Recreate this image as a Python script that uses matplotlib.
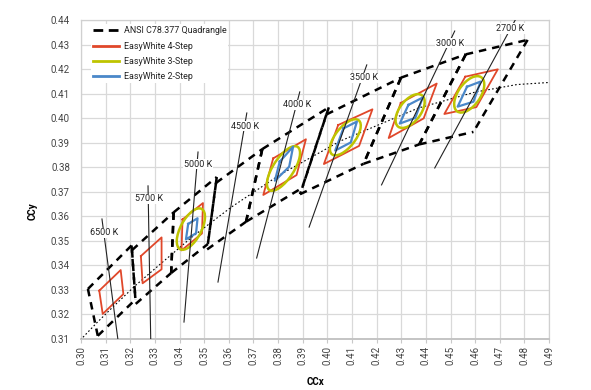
import matplotlib
matplotlib.use("Agg")
import matplotlib.pyplot as plt
from matplotlib.lines import Line2D
from matplotlib.patches import Ellipse

plt.rcParams["font.family"] = ["Roboto", "DejaVu Sans"]

CCT_LABELS = ["6500 K", "5700 K", "5000 K", "4500 K", "4000 K", "3500 K", "3000 K", "2700 K"]

# ANSI C78.377 quadrangles: corners top-right, top-left, bottom-left, bottom-right
ANSI_X = [
    [0.3205, 0.3028, 0.3068, 0.3221],
    [0.3376, 0.3207, 0.3222, 0.3366],
    [0.3551, 0.3376, 0.3366, 0.3515],
    [0.3736, 0.3548, 0.3512, 0.3670],
    [0.4006, 0.3736, 0.3670, 0.3898],
    [0.4299, 0.3996, 0.3889, 0.4147],
    [0.4562, 0.4299, 0.4147, 0.4373],
    [0.4813, 0.4562, 0.4373, 0.4593],
]
ANSI_Y = [
    [0.3481, 0.3304, 0.3113, 0.3261],
    [0.3616, 0.3462, 0.3243, 0.3369],
    [0.3760, 0.3616, 0.3369, 0.3487],
    [0.3874, 0.3736, 0.3465, 0.3578],
    [0.4044, 0.3874, 0.3578, 0.3716],
    [0.4165, 0.4015, 0.3690, 0.3814],
    [0.4260, 0.4165, 0.3814, 0.3893],
    [0.4319, 0.4260, 0.3893, 0.3944],
]

# EasyWhite 4-step (red quads), CCTs 6500, 5700, 5000, 4000, 3500, 3000, 2700
STEP4_X = [
    [0.3074, 0.3161, 0.3172, 0.3088],
    [0.3243, 0.3327, 0.3327, 0.3250],
    [0.3412, 0.3495, 0.3491, 0.3408],
    [0.3780, 0.3913, 0.3875, 0.3740],
    [0.4044, 0.4183, 0.4129, 0.3986],
    [0.4298, 0.4444, 0.4391, 0.4249],
    [0.4560, 0.4692, 0.4605, 0.4475],
]
STEP4_Y = [
    [0.3297, 0.3381, 0.3283, 0.3202],
    [0.3438, 0.3514, 0.3384, 0.3327],
    [0.3587, 0.3654, 0.3530, 0.3461],
    [0.3836, 0.3914, 0.3768, 0.3687],
    [0.3972, 0.4036, 0.3887, 0.3813],
    [0.4062, 0.4141, 0.3999, 0.3919],
    [0.4169, 0.4199, 0.4045, 0.4017],
]

# EasyWhite 3-step ellipses, CCTs 5000, 4000, 3500, 3000, 2700
STEP3_CX = [0.3446, 0.3822, 0.4073, 0.4336, 0.4576]
STEP3_CY = [0.3548, 0.3795, 0.3922, 0.4029, 0.4097]
STEP3_A = [0.0093, 0.0105, 0.0088, 0.0080, 0.0085]
STEP3_B = [0.0042, 0.0042, 0.0040, 0.0043, 0.0045]
STEP3_ANGLE = [62, 57, 52, 53, 55]

# EasyWhite 2-step (blue quads), CCTs 5000, 4000, 3500, 3000, 2700
STEP2_X = [
    [0.3435, 0.3473, 0.3467, 0.3426],
    [0.3807, 0.3861, 0.3845, 0.3787],
    [0.4065, 0.4120, 0.4095, 0.4032],
    [0.4329, 0.4387, 0.4357, 0.4294],
    [0.4567, 0.4622, 0.4593, 0.4529],
]
STEP2_Y = [
    [0.3569, 0.3592, 0.3531, 0.3506],
    [0.3823, 0.3884, 0.3802, 0.3745],
    [0.3958, 0.3986, 0.3901, 0.3868],
    [0.4054, 0.4084, 0.4001, 0.3978],
    [0.4128, 0.4149, 0.4067, 0.4047],
]

# isotherm lines (top point, bottom point) and label positions
ISO_X = [[0.3085, 0.3150], [0.3272, 0.3283], [0.3475, 0.3418], [0.3673, 0.3556],
         [0.3888, 0.3713], [0.4160, 0.3926], [0.4517, 0.4220], [0.4765, 0.4436]]
ISO_Y = [[0.3589, 0.3096], [0.3724, 0.3096], [0.3862, 0.3169], [0.4021, 0.3332],
         [0.4107, 0.3430], [0.4217, 0.3556], [0.4355, 0.3728], [0.4404, 0.3797]]
LABEL_X = [0.3093, 0.3275, 0.3475, 0.3665, 0.3876, 0.4148, 0.4497, 0.4744]
LABEL_Y = [0.3532, 0.3671, 0.3813, 0.3968, 0.4054, 0.4164, 0.4306, 0.4365]

# black body locus
PL_X = [0.2986, 0.3064, 0.3135, 0.3221, 0.3325, 0.3451, 0.3611, 0.3805,
        0.4053, 0.4369, 0.4599, 0.4770, 0.5018]
PL_Y = [0.3084, 0.3166, 0.3236, 0.3318, 0.3408, 0.3516, 0.3638, 0.3768,
        0.3907, 0.4041, 0.4106, 0.4137, 0.4153]

RED = "#e0472a"
YELLOW = "#bec400"
BLUE = "#4a87c9"
DASH = (0, (3, 2.4))

fig = plt.figure(figsize=(5.91, 3.90), dpi=100)
ax = fig.add_axes([0.1371, 0.1308, 0.7919, 0.8179])

ax.plot(PL_X, PL_Y, color="black", linestyle=(0, (1.5, 2)), linewidth=0.8, zorder=3)

# each edge drawn in a fixed direction so shared edges keep the same dash phase
for xs, ys in zip(ANSI_X, ANSI_Y):
    tr, tl, bl, br = 0, 1, 2, 3
    for i, j in ((tl, tr), (tl, bl), (bl, br), (tr, br)):
        ax.plot([xs[i], xs[j]], [ys[i], ys[j]], color="black", linestyle=DASH,
                linewidth=1.8, zorder=3)

for xs, ys in zip(STEP4_X, STEP4_Y):
    ax.plot(xs + xs[:1], ys + ys[:1], color=RED, linewidth=1.3, zorder=4)

for cx, cy, a, b, ang in zip(STEP3_CX, STEP3_CY, STEP3_A, STEP3_B, STEP3_ANGLE):
    ax.add_patch(Ellipse((cx, cy), 2 * a, 2 * b, angle=ang, fill=False,
                         edgecolor=YELLOW, linewidth=1.8, zorder=5))

for xs, ys in zip(STEP2_X, STEP2_Y):
    ax.plot(xs + xs[:1], ys + ys[:1], color=BLUE, linewidth=1.6, zorder=6)

for xs, ys in zip(ISO_X, ISO_Y):
    ax.plot(xs, ys, color="#222222", linewidth=0.8, zorder=7)

for lbl, x, y in zip(CCT_LABELS, LABEL_X, LABEL_Y):
    ax.text(x, y, lbl, ha="center", va="center", fontsize=6.5, color="#222222",
            zorder=8, bbox=dict(facecolor="white", edgecolor="none", pad=0.6))

ax.set_xlim(0.30, 0.49)
ax.set_ylim(0.31, 0.44)
ax.set_xticks([0.30 + 0.01 * i for i in range(20)])
ax.set_yticks([0.31 + 0.01 * i for i in range(14)])
ax.xaxis.set_major_formatter(matplotlib.ticker.FormatStrFormatter("%.2f"))
ax.yaxis.set_major_formatter(matplotlib.ticker.FormatStrFormatter("%.2f"))
ax.tick_params(axis="x", labelrotation=90, labelsize=7, length=3, width=0.8,
               color="#c8c8c8", labelcolor="#444444", pad=2)
ax.tick_params(axis="y", labelsize=7, length=0, pad=8, labelcolor="#444444")
ax.grid(True, color="#d9d9d9", linewidth=0.9, zorder=0)
ax.set_axisbelow(True)
for sp in ax.spines.values():
    sp.set_color("#d0d0d0")
    sp.set_linewidth(0.9)
ax.spines["bottom"].set_color("#c4c4c4")
ax.spines["bottom"].set_linewidth(1.4)

ax.set_xlabel("CCx", fontsize=7, fontweight="bold")
ax.set_ylabel("CCy", fontsize=7, fontweight="bold")
ax.xaxis.set_label_coords(0.5, -0.12)
ax.yaxis.set_label_coords(-0.092, 0.40)

handles = [
    Line2D([], [], color="black", linestyle=(0, (3.5, 2)), linewidth=2.0),
    Line2D([], [], color=RED, linewidth=2.0),
    Line2D([], [], color=YELLOW, linewidth=2.0),
    Line2D([], [], color=BLUE, linewidth=2.0),
]
names = ["ANSI C78.377 Quadrangle", "EasyWhite 4-Step", "EasyWhite 3-Step", "EasyWhite 2-Step"]
leg = ax.legend(handles, names, loc="upper left", bbox_to_anchor=(0.012, 1.0),
                fontsize=6.4, handlelength=2.9, handletextpad=0.55, labelspacing=0.72,
                frameon=True, framealpha=1, facecolor="white", edgecolor="none",
                borderpad=0.2, fancybox=False)
leg.set_zorder(10)
for t in leg.get_texts():
    t.set_color("#222222")

fig.savefig("out.png", dpi=100)
